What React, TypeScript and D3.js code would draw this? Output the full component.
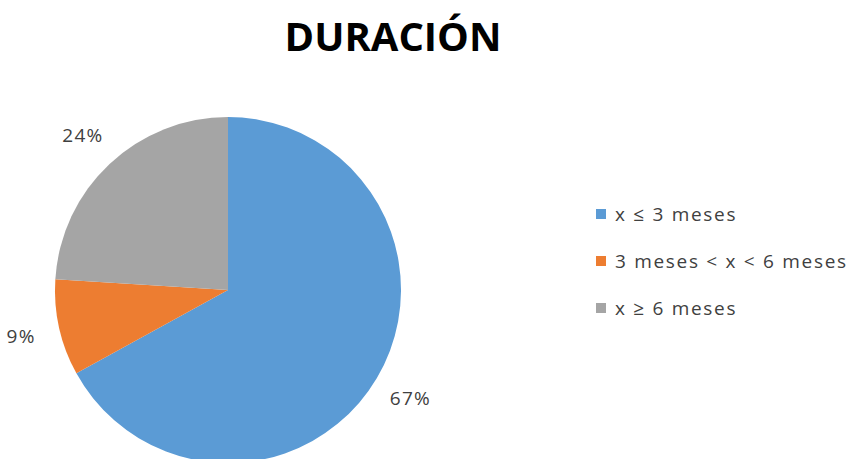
import React from 'react';
import * as d3 from 'd3';

const categories = ['x ≤ 3 meses', '3 meses < x < 6 meses', 'x ≥ 6 meses'];
const values = [67, 9, 24];
const labels = ['67%', '9%', '24%'];
const colors = ['#5B9BD5', '#ED7D31', '#A5A5A5'];
const title = 'DURACIÓN';

const width = 853;
const height = 459;

export default function App() {
  const cx = 228;
  const cy = 290;
  const radius = 173;

  const pie = d3
    .pie<number>()
    .sort(null)
    .value((d) => d);
  const arcs = pie(values);
  const arc = d3.arc<d3.PieArcDatum<number>>().innerRadius(0).outerRadius(radius);
  // labels sit just outside the pie
  const labelArc = d3
    .arc<d3.PieArcDatum<number>>()
    .innerRadius(radius + 39)
    .outerRadius(radius + 39);

  const legendY = d3
    .scalePoint<string>()
    .domain(categories)
    .range([214, 308]);

  return (
    <svg
      width={width}
      height={height}
      style={{ position: 'absolute', left: 0, top: 0, background: '#fff' }}
      fontFamily="'Open Sans', sans-serif"
    >
      <text
        x={393}
        y={51}
        textAnchor="middle"
        fontSize={40}
        fontWeight="bold"
        fill="#000"
      >
        {title}
      </text>

      <g transform={`translate(${cx},${cy})`}>
        {arcs.map((a, i) => (
          <path key={i} d={arc(a) || ''} fill={colors[i]} />
        ))}
        {arcs.map((a, i) => {
          const [x, y] = labelArc.centroid(a);
          return (
            <text
              key={'l' + i}
              x={x}
              y={y}
              textAnchor="middle"
              dominantBaseline="central"
              fontSize={19}
              letterSpacing={1.3}
              fill="#404040"
            >
              {labels[i]}
            </text>
          );
        })}
      </g>

      <g>
        {categories.map((c, i) => (
          <g key={c} transform={`translate(596,${legendY(c)})`}>
            <rect x={0} y={-5} width={10} height={10} fill={colors[i]} />
            <text
              x={19}
              y={0}
              dominantBaseline="central"
              fontSize={19}
              letterSpacing={1.7}
              fill="#404040"
            >
              {c}
            </text>
          </g>
        ))}
      </g>
    </svg>
  );
}
